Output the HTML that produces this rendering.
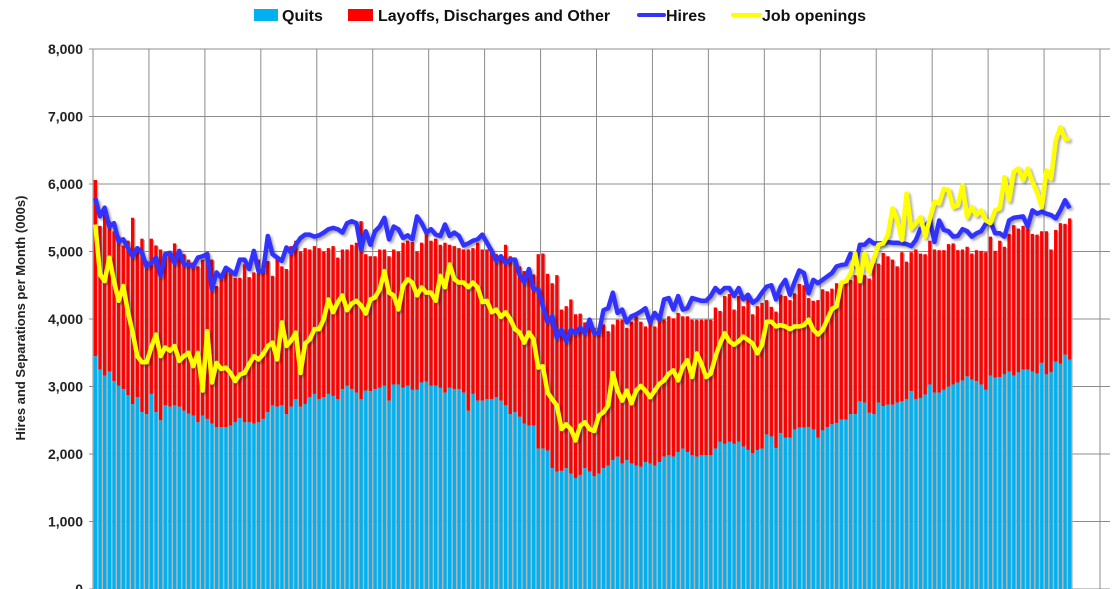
<!DOCTYPE html>
<html><head><meta charset="utf-8"><style>
body{margin:0;background:#fff;}
svg{display:block;font-family:"Liberation Sans",Arial,sans-serif;}
</style></head><body>
<svg id="chart" width="1120" height="589" viewBox="0 0 1120 589" xmlns="http://www.w3.org/2000/svg">
<defs>
<filter id="sh" x="-5%" y="-5%" width="110%" height="120%"><feDropShadow dx="2" dy="2" stdDeviation="1.2" flood-color="#000" flood-opacity="0.35"/></filter>
</defs>
<g id="legend" font-size="16" font-weight="bold" fill="#111">
<g><rect x="254" y="9" width="24" height="12" fill="#00b0f0"/><text x="282" y="21">Quits</text></g>
<g><rect x="348" y="9" width="25" height="12" fill="#ff0000"/><text x="378" y="21">Layoffs, Discharges and Other</text></g>
<g><line x1="639" y1="15" x2="664" y2="15" stroke="#3333ff" stroke-width="4" stroke-linecap="round"/><text x="666" y="21">Hires</text></g>
<g><line x1="733" y1="15" x2="760" y2="15" stroke="#ffff00" stroke-width="4" stroke-linecap="round"/><text x="762" y="21">Job openings</text></g>
</g>
<text transform="translate(25,318) rotate(-90)" text-anchor="middle" font-size="13" font-weight="bold" fill="#222">Hires and Separations per Month (000s)</text>
<g id="grid"></g>
<g id="yticks"></g>
<g id="bars"></g>
<g id="lines"></g>
</svg>
<script>
const yTickValues=[0,1000,2000,3000,4000,5000,6000,7000,8000];
const yTickLabels=["0","1,000","2,000","3,000","4,000","5,000","6,000","7,000","8,000"];
const quits=[3450,3250,3160,3220,3080,3010,2960,2870,2740,2840,2620,2590,
2890,2620,2500,2720,2700,2720,2700,2640,2600,2570,2470,2570,
2520,2450,2400,2400,2400,2420,2470,2530,2470,2470,2450,2470,
2520,2620,2720,2700,2720,2590,2700,2810,2700,2740,2840,2890,
2810,2840,2890,2860,2810,2960,3010,2960,2910,2810,2940,2930,
2960,2980,3010,2790,3030,3030,2980,3010,2950,2950,3060,3070,
3010,3010,2980,2910,2980,2960,2960,2910,2640,2890,2790,2790,
2810,2810,2840,2790,2720,2590,2620,2550,2450,2420,2420,2080,
2080,2050,1790,1740,1750,1790,1710,1640,1690,1790,1740,1670,
1710,1790,1830,1910,1960,1860,1910,1860,1830,1810,1880,1860,
1830,1880,1960,1980,1960,2030,2080,2030,1980,1960,1980,1980,
1980,2080,2180,2150,2180,2150,2180,2110,2060,2010,2060,2080,
2290,2260,2090,2310,2240,2240,2360,2390,2390,2400,2360,2240,
2350,2400,2440,2460,2510,2510,2590,2590,2780,2760,2610,2590,
2760,2710,2730,2730,2760,2780,2810,2930,2810,2830,2880,3030,
2910,2910,2950,3000,3030,3060,3090,3150,3100,3080,3030,2950,
3160,3130,3140,3180,3220,3160,3210,3250,3250,3220,3190,3350,
3180,3210,3370,3340,3470,3400];
const layoffs=[2610,2130,2390,2230,2220,2220,2130,2290,2760,2200,2570,2270,
2300,2470,2530,2240,2310,2400,2330,2320,2280,2270,2310,2310,
2480,2430,2090,2240,2340,2260,2140,2080,2340,2150,2240,2410,
2220,2240,1920,2180,2060,2150,2380,2350,2300,2310,2190,2190,
2240,2160,2160,2220,2100,2070,2020,2140,2220,2640,2020,2000,
1970,2050,2020,2140,2000,1970,2150,2150,2190,2050,2070,2210,
2150,2180,2120,2220,2120,2120,2090,2120,2390,2160,2340,2240,
2220,2190,2120,2140,2380,2340,2290,2230,2260,2320,2240,2880,
2890,2620,2740,2910,2390,2400,2580,2430,2390,2160,2250,2200,
2160,2130,1990,2010,2030,2130,1960,2100,2210,2150,2010,2100,
2060,2160,2030,2060,2050,2060,1960,2010,2010,2030,2010,2010,
2010,2090,1940,2190,2190,1990,2160,2080,2280,2060,2130,2160,
1990,1920,2020,2050,2100,2040,2020,2130,2110,1910,1910,2040,
2090,2010,2010,2070,2020,2040,1990,2060,2000,1890,1990,2240,
2060,2270,2200,2150,2020,2210,2040,2060,2220,2140,2080,2130,
2120,2110,2070,2110,2090,1960,1940,1920,1870,1940,1980,2040,
2060,1880,2020,1890,2040,2230,2130,2130,2090,2040,2060,1950,
2120,1820,1950,2080,1940,2090];
const hires=[5790,5520,5650,5370,5420,5150,5180,5050,4930,5050,4980,4780,
4830,4910,4640,4960,4980,4830,5010,4810,4810,4780,4910,4930,
4960,4440,4690,4610,4760,4710,4660,4880,4880,4740,5010,4710,
4710,5230,4960,4910,4860,5060,4980,5100,5200,5250,5250,5220,
5240,5280,5330,5350,5330,5280,5420,5450,5420,5030,5300,5100,
5300,5370,5500,5180,5370,5330,5200,5240,5180,5520,5420,5280,
5330,5250,5230,5400,5230,5280,5230,5090,5120,5160,5180,5250,
5130,5010,4860,4930,4830,4880,4880,4660,4540,4740,4440,4440,
4190,3950,4040,3720,3840,3670,3840,3790,3870,3790,3990,3790,
3790,4130,4160,4390,4090,4140,3950,4040,4070,4110,4160,3950,
4090,3990,4290,4310,4140,4340,4140,4160,4310,4290,4270,4270,
4340,4460,4390,4460,4460,4340,4460,4290,4360,4240,4290,4390,
4480,4500,4290,4480,4580,4360,4550,4720,4680,4380,4580,4530,
4580,4630,4680,4780,4800,4810,4970,4780,5100,5100,5170,5120,
5120,5120,5140,5130,5130,5120,5110,5080,5170,5340,5370,5460,
5140,5460,5320,5300,5220,5230,5330,5300,5220,5270,5300,5410,
5440,5270,5270,5220,5460,5500,5510,5520,5370,5610,5560,5590,
5560,5540,5490,5610,5760,5640];
const openings=[5400,4660,4560,4910,4560,4270,4490,4100,3800,3450,3360,3360,
3580,3770,3450,3580,3530,3600,3380,3450,3500,3300,3500,2940,
3820,3060,3350,3260,3280,3200,3080,3180,3200,3330,3450,3400,
3480,3600,3650,3400,3950,3600,3680,3800,3200,3640,3700,3850,
3850,4000,4290,4100,4250,4350,4130,4230,4270,4200,4080,4290,
4320,4440,4710,4390,4350,4140,4490,4590,4540,4350,4470,4390,
4390,4270,4640,4470,4810,4590,4540,4540,4470,4540,4470,4250,
4270,4100,4140,4030,4100,4000,3850,3800,3650,3800,3700,3280,
3300,2910,2810,2720,2370,2440,2370,2200,2420,2470,2370,2340,
2570,2620,2720,3200,2940,2790,2940,2750,2940,3010,2940,2840,
2940,3040,3090,3190,3240,3090,3290,3390,3140,3490,3340,3140,
3190,3440,3640,3790,3670,3620,3670,3740,3690,3640,3490,3620,
3960,3960,3890,3910,3890,3850,3890,3890,3910,3990,3840,3770,
3840,3990,4150,4190,4540,4560,4680,4970,4560,4970,4690,4900,
5100,5120,5240,5640,5470,5170,5860,5340,5420,5510,5220,5490,
5740,5710,5930,5910,5660,5680,5980,5510,5660,5540,5610,5460,
5420,5610,5640,6100,5760,6180,6230,6060,6230,6030,5880,5660,
6200,6080,6650,6840,6670,6660];

const NS="http://www.w3.org/2000/svg";
const X0=93,X1=1100,Y0=589,YTOP=49,YMAX=8000,NYEARS=18;
const slot=(X1-X0)/(NYEARS*12);
const yS=v=>Y0-(v/YMAX)*(Y0-YTOP);
const xS=i=>X0+(i+0.5)*slot;
function mk(tag,attrs,parent){const e=document.createElementNS(NS,tag);for(const k in attrs)e.setAttribute(k,attrs[k]);parent.appendChild(e);return e;}

const grid=document.getElementById('grid'),yt=document.getElementById('yticks');
yTickValues.forEach((v,k)=>{
  const gl=mk('line',{x1:X0-4,x2:X1+10,y1:yS(v),y2:yS(v),stroke:'#8c8c8c','stroke-width':1},grid);
  
  
  const t=mk('text',{x:83,y:yS(v)+5,'text-anchor':'end','font-size':14,'font-weight':'bold',fill:'#222'},yt);
  t.textContent=yTickLabels[k];
  
  
});
for(let k=0;k<=NYEARS;k++){
  const vl=mk('line',{x1:X0+k*slot*12,x2:X0+k*slot*12,y1:YTOP,y2:Y0,stroke:'#8c8c8c','stroke-width':1},grid);
  
  
}
const bars=document.getElementById('bars');
const bw=3.3;
quits.forEach((q,i)=>{
  const l=layoffs[i];
  const x=xS(i)-bw/2;
  const s=mk('rect',{x:x+1.3,y:yS(q+l)+1.3,width:bw,height:Y0-yS(q+l),fill:'#b4b4b4'},bars);
  
  
  const r=mk('rect',{x:x,y:yS(q+l),width:bw,height:yS(q)-yS(q+l),fill:'#ff0000'},bars);
  
  
  const b=mk('rect',{x:x,y:yS(q),width:bw,height:Y0-yS(q),fill:'#00b0f0'},bars);
  
  
});
const lines=document.getElementById('lines');
function path(arr){return arr.map((v,i)=>(i?'L':'M')+xS(i).toFixed(2)+' '+yS(v).toFixed(2)).join(' ');}
const hp=mk('path',{d:path(hires),fill:'none',stroke:'#3333ff','stroke-width':4.5,'stroke-linejoin':'round',filter:'url(#sh)'},lines);


const op=mk('path',{d:path(openings),fill:'none',stroke:'#ffff00','stroke-width':4.5,'stroke-linejoin':'round',filter:'url(#sh)'},lines);


</script>
</body></html>
